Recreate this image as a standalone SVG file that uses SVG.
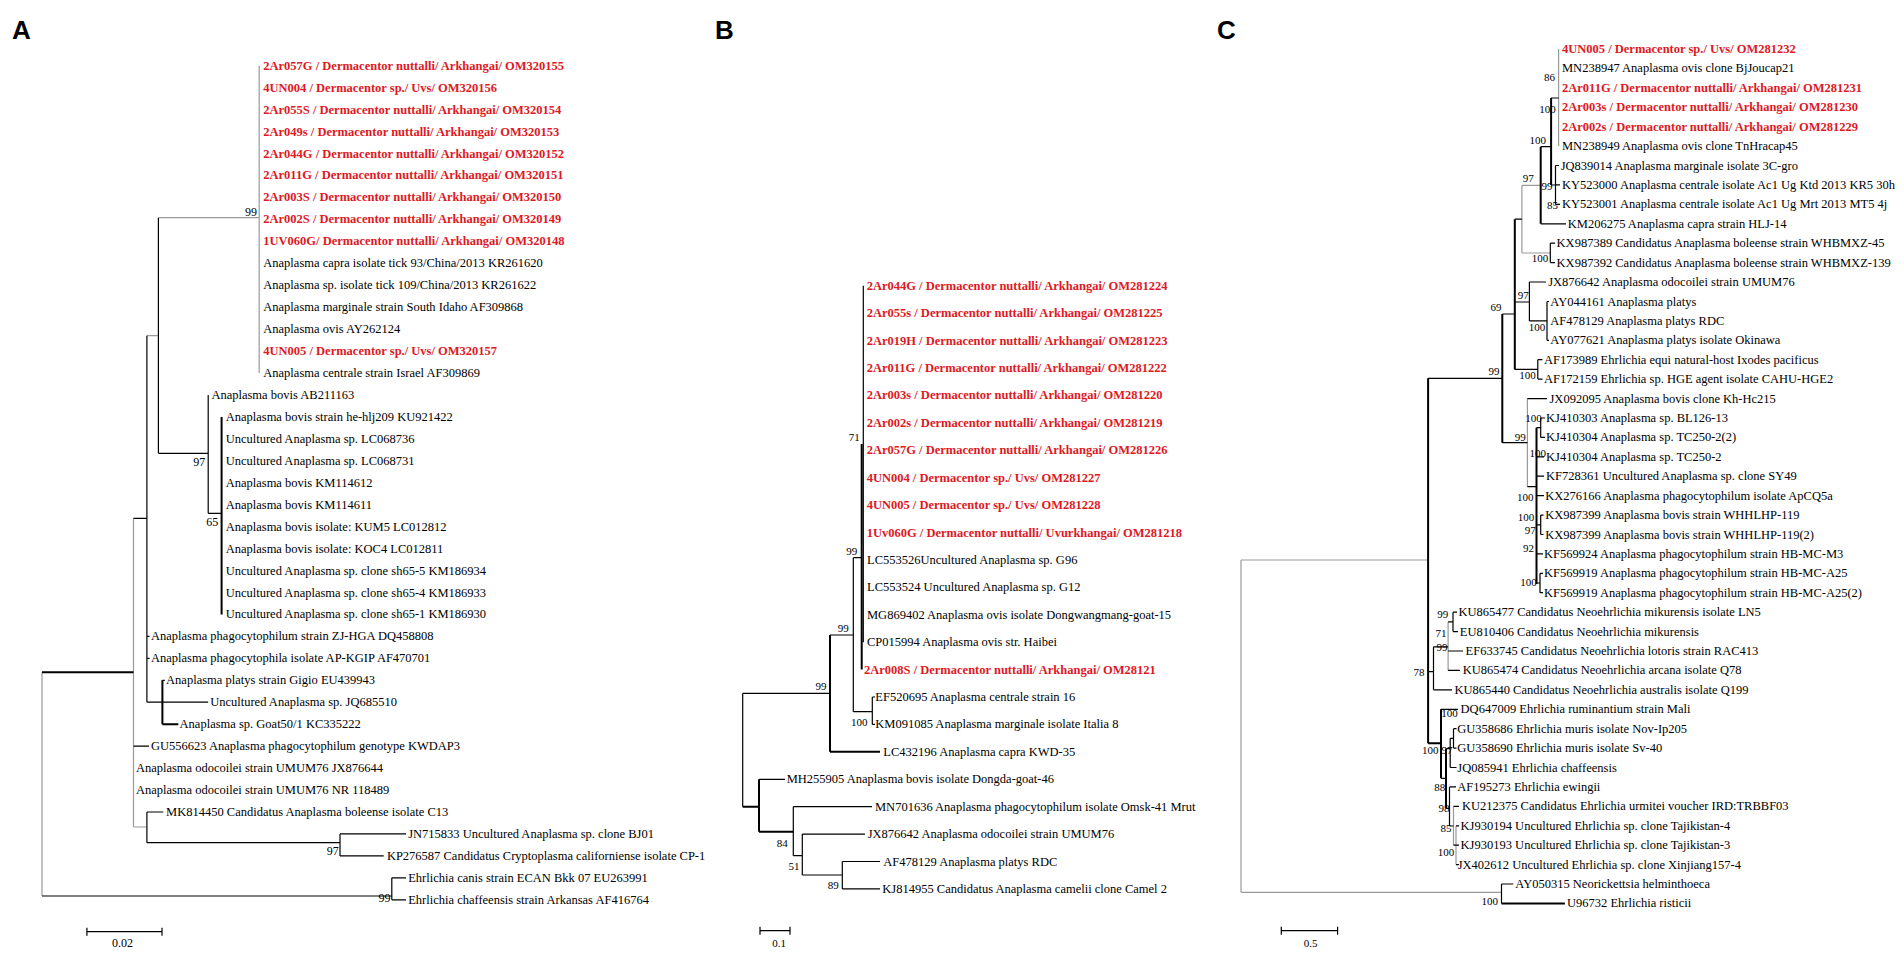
<svg xmlns="http://www.w3.org/2000/svg" width="1904" height="954" viewBox="0 0 1904 954">
<style>
.t{font-family:"Liberation Serif","Times New Roman",serif;font-size:12.5px;fill:#000}
.r{fill:#e0191f;font-weight:bold}
.bs{font-family:"Liberation Serif","Times New Roman",serif;font-size:11px;fill:#000;text-anchor:middle}
.bA{font-size:12px}
.pl{font-family:"Liberation Sans",Arial,sans-serif;font-weight:bold;font-size:26px;fill:#000}
.k{stroke:#000;stroke-width:1.2;fill:none}
.g{stroke:#9a9a9a;stroke-width:1.2;fill:none}
.th{stroke:#000;stroke-width:2;fill:none}
</style>
<rect width="1904" height="954" fill="#fff"/>
<g id="panel-labels">
<text class="pl" x="12" y="39">A</text>
<text class="pl" x="715" y="39">B</text>
<text class="pl" x="1217" y="39">C</text>
</g>
<g id="connectors">
<!-- Panel A -->
<path class="g" d="M259.2 65.7V373M158.4 217.7H259.2M146.9 335.7H158.4M133.5 518.3V827M133.5 827H146.9M42 672.3V896"/>
<path class="k" d="M158.4 217.7V453.3M158.4 453.3H208.2M208.2 394.9V513.3M208.2 513.3H221.6M146.9 335.7V702.2M146.9 636.4H149.5M146.9 658.3H149.5M146.9 702.2H208.2M162.4 680.3H164.8M133.5 518.3H146.9M133.5 746.1H149M146.9 812V842.7M146.9 812H163.3M146.9 842.7H340M340 833.9V855.9M340 833.9H406M340 855.9H383.7M42 896H391.8M391.8 877.8V899.8M391.8 877.8H406M391.8 899.8H406"/>
<path class="th" d="M221.6 416.9V614.4M162.4 680.3V724.2M162.4 724.2H178.4M42 672.3H133.5"/>
<path class="k" d="M86.9 931.7H162M86.9 927.7V935.7M162 927.7V935.7"/>
<!-- Panel B -->
<path class="k" d="M863.3 285.7V642.2M853.3 557.7H861.7M853.3 557.7V711.7M853.3 711.7H872.3M872.3 697V724.4M872.3 697H875M872.3 724.4H875M830 635H853.3M742.7 693.3H830M742.7 693.3V806.7M759 779.3H785M793.3 806.7V855.7M793.3 806.7H872M793.3 855.7H802.3M802.3 834.1V875M802.3 834.1H865M802.3 875H842.3M842.3 861.5V888.9M842.3 861.5H880M842.3 888.9H880"/>
<path class="th" d="M861.7 444V669.6M830 635V751.8M830 751.8H880M742.7 806.7H759M759 779.3V831.7M759 831.7H793.3"/>
<path class="k" d="M760 930.7H790M760 926.7V934.7M790 926.7V934.7"/>
<!-- Panel C -->
<path class="g" d="M1558.6 49V146.1M1521.9 185.3H1540.7M1521.9 185.3V253M1521.9 253H1550.3M1527.4 398.6V486.7M1448.1 621.9V670.4M1241 560V892.3M1241 560H1428.1M1241 892.3H1501.5M1453.5 806.3V845.2M1456 825.8V864.6"/>
<path class="k" d="M1551.1 98H1558.6M1551.1 185H1555.5M1555.5 165.5V204.4M1555.5 165.5H1559M1555.5 184.9H1560M1555.5 204.4H1560M1540.7 146.7H1551.1M1540.7 223.8H1566M1550.3 243.2V262.6M1550.3 243.2H1555M1550.3 262.6H1555M1514.8 219.2H1521.9M1514.8 302H1529.4M1529.4 282V320.9M1529.4 282H1546M1529.4 320.9H1547M1547 301.5V340.3M1547 301.5H1549M1547 340.3H1549M1514.8 369.4H1537.8M1537.8 359.7V379.1M1537.8 359.7H1542.5M1537.8 379.1H1542.5M1502.3 314H1514.8M1502.3 442.7H1527.4M1428.1 378.3H1502.3M1527.4 398.6H1547M1527.4 486.7H1536.5M1536.5 427.7H1540.7M1540.7 418V437.4M1540.7 418H1545M1540.7 437.4H1545M1536.5 456.8H1544M1536.5 476.2H1544M1536.5 495.6H1544M1536.5 524.8H1540.7M1540.7 515.1V534.5M1540.7 515.1H1543.5M1540.7 534.5H1543.5M1536.5 553.9H1543M1536.5 583H1540M1540 573.3V592.7M1540 573.3H1543M1540 592.7H1543M1428.1 671.7H1433.5M1433.5 646.8V689.8M1433.5 689.8H1452M1433.5 646.8H1448.1M1448.1 670.4H1460M1448.1 651H1463M1448.1 621.9H1453M1453 612.2V631.6M1453 612.2H1457M1453 631.6H1458M1441 709.3H1458M1441 778.3H1446M1446 748.7H1450.2M1450.2 738.4V767.5M1450.2 738.4H1453.5M1453.5 728.7V748.1M1453.5 728.7H1456.5M1453.5 748.1H1456.5M1450.2 767.5H1456.5M1446 808.3H1449.5M1449.5 786.9V826M1449.5 786.9H1456M1449.5 826H1453.5M1453.5 806.3H1459M1453.5 845.2H1456M1456 825.8H1459M1456 845.2H1459M1456 864.6H1459M1501.5 884V903.4M1501.5 884H1513.3"/>
<path class="th" d="M1551.1 98V185M1540.7 146.7V223.8M1514.8 219.2V369.4M1502.3 314V442.7M1536.5 427.7V584M1428.1 378.3V743.3M1428.1 743.3H1441M1441 709.3V778.3M1446 748.7V808.3M1501.5 903.4H1564.9"/>
<path class="k" d="M1281.3 930.7H1337.6M1281.3 926.7V934.7M1337.6 926.7V934.7"/>
</g>
<g id="scale-labels">
<text class="bs bA" x="122.4" y="947">0.02</text>
<text class="bs" x="779" y="947">0.1</text>
<text class="bs" x="1310.5" y="947">0.5</text>
</g>
<g id="bootstrap-A">
<text class="bs bA" x="251" y="215.7">99</text>
<text class="bs bA" x="199.2" y="465.7">97</text>
<text class="bs bA" x="212.2" y="526.3">65</text>
<text class="bs bA" x="332.7" y="855">97</text>
<text class="bs bA" x="384.5" y="901.7">99</text>
</g>
<g id="bootstrap-B">
<text class="bs" x="854.3" y="440.7">71</text>
<text class="bs" x="851.7" y="555">99</text>
<text class="bs" x="843.3" y="632.3">99</text>
<text class="bs" x="821" y="690">99</text>
<text class="bs" x="859.3" y="725.7">100</text>
<text class="bs" x="782.3" y="847.3">84</text>
<text class="bs" x="794" y="870">51</text>
<text class="bs" x="833.3" y="889">89</text>
</g>
<g id="bootstrap-C">
<text class="bs" x="1549.5" y="80.7">86</text>
<text class="bs" x="1547.5" y="113">100</text>
<text class="bs" x="1537.8" y="144">100</text>
<text class="bs" x="1528.2" y="182.3">97</text>
<text class="bs" x="1547" y="189.7">99</text>
<text class="bs" x="1552.4" y="209">85</text>
<text class="bs" x="1540" y="261.5">100</text>
<text class="bs" x="1523.2" y="299">97</text>
<text class="bs" x="1496.1" y="311.3">69</text>
<text class="bs" x="1537" y="331.3">100</text>
<text class="bs" x="1494" y="374.7">99</text>
<text class="bs" x="1527.4" y="379">100</text>
<text class="bs" x="1533.6" y="422.3">100</text>
<text class="bs" x="1520.3" y="441.3">99</text>
<text class="bs" x="1537.8" y="457.3">100</text>
<text class="bs" x="1525.3" y="500.7">100</text>
<text class="bs" x="1526.1" y="520.7">100</text>
<text class="bs" x="1530.3" y="534">97</text>
<text class="bs" x="1528.6" y="552.3">92</text>
<text class="bs" x="1528.6" y="585.7">100</text>
<text class="bs" x="1442.7" y="618">99</text>
<text class="bs" x="1441" y="636.7">71</text>
<text class="bs" x="1441.9" y="650.7">99</text>
<text class="bs" x="1418.9" y="675.7">78</text>
<text class="bs" x="1449.4" y="717.3">100</text>
<text class="bs" x="1430.2" y="754">100</text>
<text class="bs" x="1447" y="754">97</text>
<text class="bs" x="1439.8" y="790.7">88</text>
<text class="bs" x="1444" y="812.3">98</text>
<text class="bs" x="1446" y="832.3">85</text>
<text class="bs" x="1446" y="855.7">100</text>
<text class="bs" x="1489.8" y="904.7">100</text>
</g>
<g id="A01"><text class="t r" x="263.3" y="69.7">2Ar057G / Dermacentor nuttalli/ Arkhangai/ OM320155</text></g>
<g id="A02"><text class="t r" x="263.3" y="91.65">4UN004 / Dermacentor sp./ Uvs/ OM320156</text></g>
<g id="A03"><text class="t r" x="263.3" y="113.6">2Ar055S / Dermacentor nuttalli/ Arkhangai/ OM320154</text></g>
<g id="A04"><text class="t r" x="263.3" y="135.55">2Ar049s / Dermacentor nuttalli/ Arkhangai/ OM320153</text></g>
<g id="A05"><text class="t r" x="263.3" y="157.5">2Ar044G / Dermacentor nuttalli/ Arkhangai/ OM320152</text></g>
<g id="A06"><text class="t r" x="263.3" y="179.45">2Ar011G / Dermacentor nuttalli/ Arkhangai/ OM320151</text></g>
<g id="A07"><text class="t r" x="263.3" y="201.4">2Ar003S / Dermacentor nuttalli/ Arkhangai/ OM320150</text></g>
<g id="A08"><text class="t r" x="263.3" y="223.35">2Ar002S / Dermacentor nuttalli/ Arkhangai/ OM320149</text></g>
<g id="A09"><text class="t r" x="263.3" y="245.3">1UV060G/ Dermacentor nuttalli/ Arkhangai/ OM320148</text></g>
<g id="A10"><text class="t" x="263.3" y="267.25">Anaplasma capra isolate tick 93/China/2013 KR261620</text></g>
<g id="A11"><text class="t" x="263.3" y="289.2">Anaplasma sp. isolate tick 109/China/2013 KR261622</text></g>
<g id="A12"><text class="t" x="263.3" y="311.15">Anaplasma marginale strain South Idaho AF309868</text></g>
<g id="A13"><text class="t" x="263.3" y="333.1">Anaplasma ovis AY262124</text></g>
<g id="A14"><text class="t r" x="263.3" y="355.05">4UN005 / Dermacentor sp./ Uvs/ OM320157</text></g>
<g id="A15"><text class="t" x="263.3" y="377">Anaplasma centrale strain Israel AF309869</text></g>
<g id="A16"><text class="t" x="211.4" y="398.95">Anaplasma bovis AB211163</text></g>
<g id="A17"><text class="t" x="225.7" y="420.9">Anaplasma bovis strain he-hlj209 KU921422</text></g>
<g id="A18"><text class="t" x="225.7" y="442.85">Uncultured Anaplasma sp. LC068736</text></g>
<g id="A19"><text class="t" x="225.7" y="464.8">Uncultured Anaplasma sp. LC068731</text></g>
<g id="A20"><text class="t" x="225.7" y="486.75">Anaplasma bovis KM114612</text></g>
<g id="A21"><text class="t" x="225.7" y="508.7">Anaplasma bovis KM114611</text></g>
<g id="A22"><text class="t" x="225.7" y="530.65">Anaplasma bovis isolate: KUM5 LC012812</text></g>
<g id="A23"><text class="t" x="225.7" y="552.6">Anaplasma bovis isolate: KOC4 LC012811</text></g>
<g id="A24"><text class="t" x="225.7" y="574.55">Uncultured Anaplasma sp. clone sh65-5 KM186934</text></g>
<g id="A25"><text class="t" x="225.7" y="596.5">Uncultured Anaplasma sp. clone sh65-4 KM186933</text></g>
<g id="A26"><text class="t" x="225.7" y="618.45">Uncultured Anaplasma sp. clone sh65-1 KM186930</text></g>
<g id="A27"><text class="t" x="151" y="640.4">Anaplasma phagocytophilum strain ZJ-HGA DQ458808</text></g>
<g id="A28"><text class="t" x="151" y="662.35">Anaplasma phagocytophila isolate AP-KGIP AF470701</text></g>
<g id="A29"><text class="t" x="166.1" y="684.3">Anaplasma platys strain Gigio EU439943</text></g>
<g id="A30"><text class="t" x="210.2" y="706.25">Uncultured Anaplasma sp. JQ685510</text></g>
<g id="A31"><text class="t" x="179.6" y="728.2">Anaplasma sp. Goat50/1 KC335222</text></g>
<g id="A32"><text class="t" x="151" y="750.15">GU556623 Anaplasma phagocytophilum genotype KWDAP3</text></g>
<g id="A33"><text class="t" x="135.9" y="772.1">Anaplasma odocoilei strain UMUM76 JX876644</text></g>
<g id="A34"><text class="t" x="135.9" y="794.05">Anaplasma odocoilei strain UMUM76 NR 118489</text></g>
<g id="A35"><text class="t" x="166.1" y="816">MK814450 Candidatus Anaplasma boleense isolate C13</text></g>
<g id="A36"><text class="t" x="408.2" y="837.95">JN715833 Uncultured Anaplasma sp. clone BJ01</text></g>
<g id="A37"><text class="t" x="386.9" y="859.9">KP276587 Candidatus Cryptoplasma californiense isolate CP-1</text></g>
<g id="A38"><text class="t" x="408.2" y="881.85">Ehrlichia canis strain ECAN Bkk 07 EU263991</text></g>
<g id="A39"><text class="t" x="408.2" y="903.8">Ehrlichia chaffeensis strain Arkansas AF416764</text></g>
<g id="B01"><text class="t r" x="866.7" y="289.7">2Ar044G / Dermacentor nuttalli/ Arkhangai/ OM281224</text></g>
<g id="B02"><text class="t r" x="866.7" y="317.1">2Ar055s / Dermacentor nuttalli/ Arkhangai/ OM281225</text></g>
<g id="B03"><text class="t r" x="866.7" y="344.5">2Ar019H / Dermacentor nuttalli/ Arkhangai/ OM281223</text></g>
<g id="B04"><text class="t r" x="866.7" y="372">2Ar011G / Dermacentor nuttalli/ Arkhangai/ OM281222</text></g>
<g id="B05"><text class="t r" x="866.7" y="399.4">2Ar003s / Dermacentor nuttalli/ Arkhangai/ OM281220</text></g>
<g id="B06"><text class="t r" x="866.7" y="426.8">2Ar002s / Dermacentor nuttalli/ Arkhangai/ OM281219</text></g>
<g id="B07"><text class="t r" x="866.7" y="454.2">2Ar057G / Dermacentor nuttalli/ Arkhangai/ OM281226</text></g>
<g id="B08"><text class="t r" x="866.7" y="481.6">4UN004 / Dermacentor sp./ Uvs/ OM281227</text></g>
<g id="B09"><text class="t r" x="866.7" y="509.1">4UN005 / Dermacentor sp./ Uvs/ OM281228</text></g>
<g id="B10"><text class="t r" x="866.7" y="536.5">1Uv060G / Dermacentor nuttalli/ Uvurkhangai/ OM281218</text></g>
<g id="B11"><text class="t" x="867" y="563.9">LC553526Uncultured Anaplasma sp. G96</text></g>
<g id="B12"><text class="t" x="867" y="591.3">LC553524 Uncultured Anaplasma sp. G12</text></g>
<g id="B13"><text class="t" x="867" y="618.7">MG869402 Anaplasma ovis isolate Dongwangmang-goat-15</text></g>
<g id="B14"><text class="t" x="867" y="646.2">CP015994 Anaplasma ovis str. Haibei</text></g>
<g id="B15"><text class="t r" x="864" y="673.6">2Ar008S / Dermacentor nuttalli/ Arkhangai/ OM28121</text></g>
<g id="B16"><text class="t" x="875.3" y="701">EF520695 Anaplasma centrale strain 16</text></g>
<g id="B17"><text class="t" x="875.3" y="728.4">KM091085 Anaplasma marginale isolate Italia 8</text></g>
<g id="B18"><text class="t" x="883.3" y="755.8">LC432196 Anaplasma capra KWD-35</text></g>
<g id="B19"><text class="t" x="786.7" y="783.3">MH255905 Anaplasma bovis isolate Dongda-goat-46</text></g>
<g id="B20"><text class="t" x="875" y="810.7">MN701636 Anaplasma phagocytophilum isolate Omsk-41 Mrut</text></g>
<g id="B21"><text class="t" x="867.7" y="838.1">JX876642 Anaplasma odocoilei strain UMUM76</text></g>
<g id="B22"><text class="t" x="883.3" y="865.5">AF478129 Anaplasma platys RDC</text></g>
<g id="B23"><text class="t" x="882.3" y="892.9">KJ814955 Candidatus Anaplasma camelii clone Camel 2</text></g>
<g id="C01"><text class="t r" x="1562" y="53">4UN005 / Dermacentor sp./ Uvs/ OM281232</text></g>
<g id="C02"><text class="t" x="1562" y="72.4">MN238947 Anaplasma ovis clone BjJoucap21</text></g>
<g id="C03"><text class="t r" x="1562" y="91.8">2Ar011G / Dermacentor nuttalli/ Arkhangai/ OM281231</text></g>
<g id="C04"><text class="t r" x="1562" y="111.3">2Ar003s / Dermacentor nuttalli/ Arkhangai/ OM281230</text></g>
<g id="C05"><text class="t r" x="1562" y="130.7">2Ar002s / Dermacentor nuttalli/ Arkhangai/ OM281229</text></g>
<g id="C06"><text class="t" x="1562" y="150.1">MN238949 Anaplasma ovis clone TnHracap45</text></g>
<g id="C07"><text class="t" x="1560.7" y="169.5">JQ839014 Anaplasma marginale isolate 3C-gro</text></g>
<g id="C08"><text class="t" x="1562" y="188.9">KY523000 Anaplasma centrale isolate Ac1 Ug Ktd 2013 KR5 30h</text></g>
<g id="C09"><text class="t" x="1562" y="208.4">KY523001 Anaplasma centrale isolate Ac1 Ug Mrt 2013 MT5 4j</text></g>
<g id="C10"><text class="t" x="1567.8" y="227.8">KM206275 Anaplasma capra strain HLJ-14</text></g>
<g id="C11"><text class="t" x="1556.6" y="247.2">KX987389 Candidatus Anaplasma boleense strain WHBMXZ-45</text></g>
<g id="C12"><text class="t" x="1556.6" y="266.6">KX987392 Candidatus Anaplasma boleense strain WHBMXZ-139</text></g>
<g id="C13"><text class="t" x="1548.2" y="286">JX876642 Anaplasma odocoilei strain UMUM76</text></g>
<g id="C14"><text class="t" x="1550.3" y="305.5">AY044161 Anaplasma platys</text></g>
<g id="C15"><text class="t" x="1550.3" y="324.9">AF478129 Anaplasma platys RDC</text></g>
<g id="C16"><text class="t" x="1550.3" y="344.3">AY077621 Anaplasma platys isolate Okinawa</text></g>
<g id="C17"><text class="t" x="1544" y="363.7">AF173989 Ehrlichia equi natural-host Ixodes pacificus</text></g>
<g id="C18"><text class="t" x="1544" y="383.1">AF172159 Ehrlichia sp. HGE agent isolate CAHU-HGE2</text></g>
<g id="C19"><text class="t" x="1549.5" y="402.6">JX092095 Anaplasma bovis clone Kh-Hc215</text></g>
<g id="C20"><text class="t" x="1546.1" y="422">KJ410303 Anaplasma sp. BL126-13</text></g>
<g id="C21"><text class="t" x="1546.1" y="441.4">KJ410304 Anaplasma sp. TC250-2(2)</text></g>
<g id="C22"><text class="t" x="1546.1" y="460.8">KJ410304 Anaplasma sp. TC250-2</text></g>
<g id="C23"><text class="t" x="1546.1" y="480.2">KF728361 Uncultured Anaplasma sp. clone SY49</text></g>
<g id="C24"><text class="t" x="1545.3" y="499.6">KX276166 Anaplasma phagocytophilum isolate ApCQ5a</text></g>
<g id="C25"><text class="t" x="1545.3" y="519.1">KX987399 Anaplasma bovis strain WHHLHP-119</text></g>
<g id="C26"><text class="t" x="1545.3" y="538.5">KX987399 Anaplasma bovis strain WHHLHP-119(2)</text></g>
<g id="C27"><text class="t" x="1544" y="557.9">KF569924 Anaplasma phagocytophilum strain HB-MC-M3</text></g>
<g id="C28"><text class="t" x="1544" y="577.3">KF569919 Anaplasma phagocytophilum strain HB-MC-A25</text></g>
<g id="C29"><text class="t" x="1544" y="596.7">KF569919 Anaplasma phagocytophilum strain HB-MC-A25(2)</text></g>
<g id="C30"><text class="t" x="1458.5" y="616.2">KU865477 Candidatus Neoehrlichia mikurensis isolate LN5</text></g>
<g id="C31"><text class="t" x="1459.8" y="635.6">EU810406 Candidatus Neoehrlichia mikurensis</text></g>
<g id="C32"><text class="t" x="1465.6" y="655">EF633745 Candidatus Neoehrlichia lotoris strain RAC413</text></g>
<g id="C33"><text class="t" x="1462.7" y="674.4">KU865474 Candidatus Neoehrlichia arcana isolate Q78</text></g>
<g id="C34"><text class="t" x="1454.4" y="693.8">KU865440 Candidatus Neoehrlichia australis isolate Q199</text></g>
<g id="C35"><text class="t" x="1460.6" y="713.3">DQ647009 Ehrlichia ruminantium strain Mali</text></g>
<g id="C36"><text class="t" x="1457.3" y="732.7">GU358686 Ehrlichia muris isolate Nov-Ip205</text></g>
<g id="C37"><text class="t" x="1457.3" y="752.1">GU358690 Ehrlichia muris isolate Sv-40</text></g>
<g id="C38"><text class="t" x="1457.3" y="771.5">JQ085941 Ehrlichia chaffeensis</text></g>
<g id="C39"><text class="t" x="1457.3" y="790.9">AF195273 Ehrlichia ewingii</text></g>
<g id="C40"><text class="t" x="1461.9" y="810.3">KU212375 Candidatus Ehrlichia urmitei voucher IRD:TRBBF03</text></g>
<g id="C41"><text class="t" x="1460.6" y="829.8">KJ930194 Uncultured Ehrlichia sp. clone Tajikistan-4</text></g>
<g id="C42"><text class="t" x="1460.6" y="849.2">KJ930193 Uncultured Ehrlichia sp. clone Tajikistan-3</text></g>
<g id="C43"><text class="t" x="1457.7" y="868.6">JX402612 Uncultured Ehrlichia sp. clone Xinjiang157-4</text></g>
<g id="C44"><text class="t" x="1515.3" y="888">AY050315 Neorickettsia helminthoeca</text></g>
<g id="C45"><text class="t" x="1567" y="907.4">U96732 Ehrlichia risticii</text></g>
</svg>
